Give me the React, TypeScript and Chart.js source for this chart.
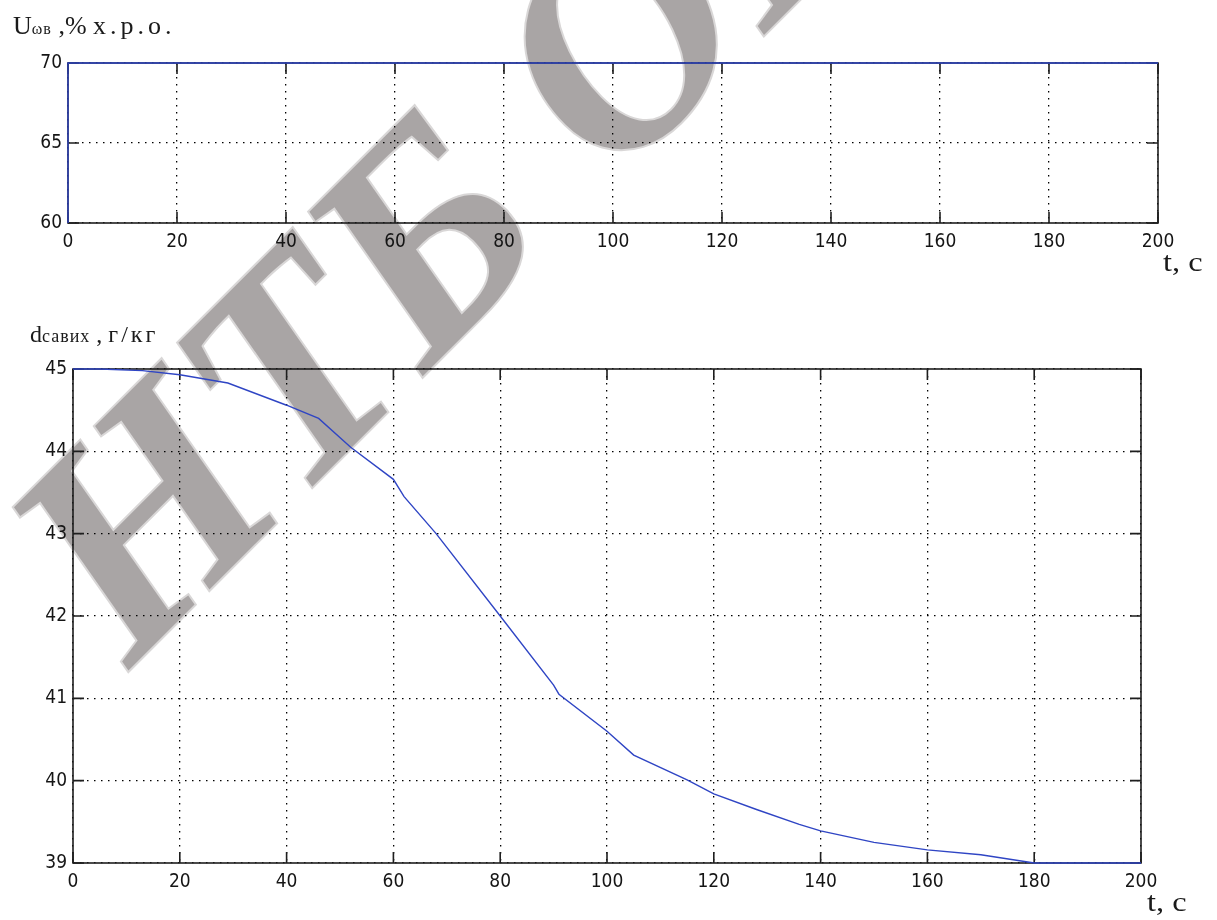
import React, { useEffect, useRef } from "react";
import { Chart, registerables } from "chart.js";

Chart.register(...registerables);

// ---- data ----
const timeMin = 0;
const timeMax = 200;
const timeStep = 20;

const uTime = [0, 0, 200];
const uValues = [60, 70, 70];
const uMin = 60;
const uMax = 70;
const uStep = 5;

const dTime = [0, 5, 13, 20, 29, 40, 46, 52, 60, 62, 68, 80, 90, 91, 100, 105, 115, 120, 128, 136, 140, 150, 160, 170, 180, 200];
const dValues = [45, 45, 44.98, 44.93, 44.83, 44.56, 44.4, 44.05, 43.66, 43.45, 43.0, 42.0, 41.16, 41.05, 40.6, 40.31, 40.01, 39.84, 39.65, 39.47, 39.39, 39.25, 39.16, 39.1, 39.0, 39.0];
const dMin = 39;
const dMax = 45;
const dStep = 1;

const TICK_FONT = "'Liberation Sans Narrow', 'DejaVu Sans Condensed', 'Liberation Sans', Arial, sans-serif";
const SERIF = "'Liberation Serif', 'Times New Roman', serif";
const LINE_COLOR = "#2f45c4";

const framePlugin = {
  id: "matlabFrame",
  beforeDatasetsDraw(chart: any) {
    const { ctx, chartArea: a, scales } = chart;
    const xs = scales.x;
    const ys = scales.y;
    const L = 11;
    ctx.save();
    ctx.setLineDash([]);
    ctx.strokeStyle = "#1e1e1e";
    ctx.lineWidth = 1.6;
    ctx.strokeRect(a.left, a.top, a.right - a.left, a.bottom - a.top);
    ctx.beginPath();
    xs.ticks.forEach((t: any) => {
      const px = xs.getPixelForValue(t.value);
      ctx.moveTo(px, a.bottom);
      ctx.lineTo(px, a.bottom - L);
      ctx.moveTo(px, a.top);
      ctx.lineTo(px, a.top + L);
    });
    ys.ticks.forEach((t: any) => {
      const py = ys.getPixelForValue(t.value);
      ctx.moveTo(a.left, py);
      ctx.lineTo(a.left + L, py);
      ctx.moveTo(a.right, py);
      ctx.lineTo(a.right - L, py);
    });
    ctx.stroke();
    ctx.restore();
  },
};

function makeConfig(
  xs: number[],
  ys: number[],
  yMin: number,
  yMax: number,
  yStep: number,
  yAxisWidth: number,
  pad: { left: number; right: number; top: number; bottom: number }
): any {
  return {
    type: "line",
    data: {
      datasets: [
        {
          data: xs.map((x, i) => ({ x, y: ys[i] })),
          borderColor: LINE_COLOR,
          borderWidth: 1.4,
          pointRadius: 0,
          tension: 0,
          fill: false,
          clip: 4,
        },
      ],
    },
    options: {
      animation: false,
      responsive: false,
      maintainAspectRatio: false,
      layout: { padding: pad },
      plugins: { legend: { display: false }, tooltip: { enabled: false }, title: { display: false } },
      scales: {
        x: {
          type: "linear",
          min: timeMin,
          max: timeMax,
          ticks: {
            stepSize: timeStep,
            color: "#151515",
            font: { family: TICK_FONT, size: 19 },
            padding: 8,
            maxRotation: 0,
            autoSkip: false,
          },
          grid: { color: "#000", lineWidth: 1.3, drawTicks: false },
          border: { display: false, dash: [1.5, 5.5] },
          afterFit: (s: any) => {
            s.height = 30;
          },
        },
        y: {
          type: "linear",
          min: yMin,
          max: yMax,
          ticks: {
            stepSize: yStep,
            color: "#151515",
            font: { family: TICK_FONT, size: 19 },
            padding: 6,
            autoSkip: false,
          },
          grid: { color: "#000", lineWidth: 1.3, drawTicks: false },
          border: { display: false, dash: [1.5, 5.5] },
          afterFit: (s: any) => {
            s.width = yAxisWidth;
          },
        },
      },
    },
    plugins: [framePlugin],
  };
}

function ChartCanvas(props: { config: () => any; top: number; height: number }) {
  const ref = useRef<HTMLCanvasElement | null>(null);
  useEffect(() => {
    if (!ref.current) return;
    const chart = new Chart(ref.current, props.config());
    return () => chart.destroy();
  }, []);
  return (
    <canvas
      ref={ref}
      width={1217}
      height={props.height}
      style={{ position: "absolute", left: 0, top: props.top, width: 1217, height: props.height, zIndex: 1 }}
    />
  );
}

export default function App() {
  const TOP_H = 280;
  const BOT_TOP = 280;
  const BOT_H = 640;
  return (
    <div
      style={{
        position: "absolute",
        left: 0,
        top: 0,
        width: 1217,
        height: 920,
        overflow: "hidden",
        background: "#fff",
      }}
    >
      <svg
        width={1217}
        height={920}
        style={{ position: "absolute", left: 0, top: 0, zIndex: 0, pointerEvents: "none" }}
      >
        <text
          x={130}
          y={669}
          transform="rotate(-45 130 669)"
          fontFamily={SERIF}
          fontStyle="italic"
          fontWeight="bold"
          fontSize={300}
          fill="#a9a5a5"
          stroke="#d9d7d7"
          strokeWidth={4}
          paintOrder="stroke"
        >
          НТБ ОНАХТ
        </text>
      </svg>

      <ChartCanvas
        top={0}
        height={TOP_H}
        config={() =>
          makeConfig(uTime, uValues, uMin, uMax, uStep, 68, { left: 0, right: 59, top: 63, bottom: TOP_H - 223 - 30 })
        }
      />
      <ChartCanvas
        top={BOT_TOP}
        height={BOT_H}
        config={() =>
          makeConfig(dTime, dValues, dMin, dMax, dStep, 73, {
            left: 0,
            right: 76,
            top: 369 - BOT_TOP,
            bottom: BOT_H - (863 - BOT_TOP) - 30,
          })
        }
      />

      <div
        style={{
          position: "absolute",
          left: 13,
          top: 13,
          zIndex: 2,
          fontFamily: SERIF,
          fontSize: 26,
          lineHeight: "26px",
          whiteSpace: "nowrap",
          color: "#1a1a1a",
        }}
      >
        U<span style={{ fontSize: 16, letterSpacing: "1px" }}>ωв</span> ,% <span style={{ letterSpacing: "4px" }}>х.р.о.</span>
      </div>

      <div
        style={{
          position: "absolute",
          left: 30,
          top: 322,
          zIndex: 2,
          fontFamily: SERIF,
          fontSize: 24,
          lineHeight: "24px",
          whiteSpace: "nowrap",
          color: "#1a1a1a",
        }}
      >
        d<span style={{ fontSize: 18, letterSpacing: "1px" }}>савих</span> , <span style={{ letterSpacing: "3px" }}>г/кг</span>
      </div>

      <div
        style={{
          position: "absolute",
          left: 1163,
          top: 249,
          zIndex: 2,
          fontFamily: SERIF,
          fontSize: 27,
          lineHeight: "27px",
          whiteSpace: "nowrap",
          color: "#1a1a1a",
          transform: "scaleX(1.2)",
          transformOrigin: "left center",
        }}
      >
        t, с
      </div>

      <div
        style={{
          position: "absolute",
          left: 1147,
          top: 889,
          zIndex: 2,
          fontFamily: SERIF,
          fontSize: 27,
          lineHeight: "27px",
          whiteSpace: "nowrap",
          color: "#1a1a1a",
          transform: "scaleX(1.2)",
          transformOrigin: "left center",
        }}
      >
        t, с
      </div>
    </div>
  );
}
